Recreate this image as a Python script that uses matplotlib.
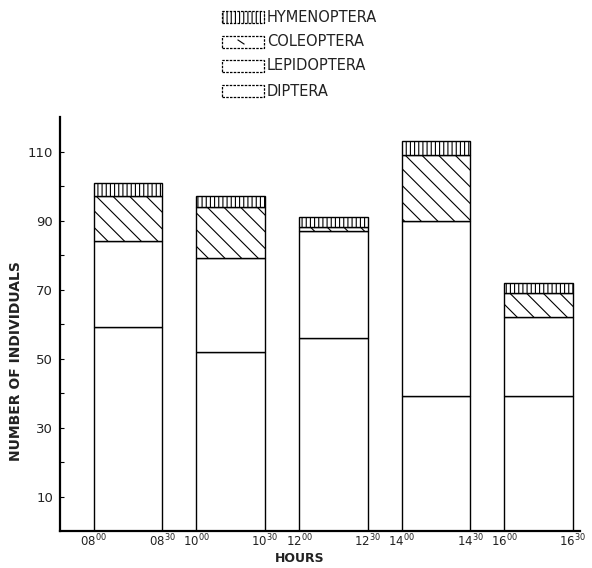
import matplotlib
matplotlib.use("Agg")
import matplotlib.pyplot as plt
from matplotlib.patches import Rectangle
import numpy as np

plt.rcParams['hatch.linewidth'] = 0.8

# Data (number of individuals, stacked)
periods = ["08-0830", "10-1030", "12-1230", "14-1430", "16-1630"]
start_labels = ["08$^{00}$", "10$^{00}$", "12$^{00}$", "14$^{00}$", "16$^{00}$"]
end_labels = ["08$^{30}$", "10$^{30}$", "12$^{30}$", "14$^{30}$", "16$^{30}$"]
diptera = [59, 52, 56, 39, 39]
lepidoptera = [25, 27, 31, 51, 23]
coleoptera = [13, 15, 1, 19, 7]
hymenoptera = [4, 3, 3, 4, 3]

series = [
    ("DIPTERA", diptera, None),
    ("LEPIDOPTERA", lepidoptera, None),
    ("COLEOPTERA", coleoptera, "\\\\"),
    ("HYMENOPTERA", hymenoptera, "||||"),
]

fig = plt.figure(figsize=(5.92, 5.68), dpi=100)
ax = fig.add_axes([0.1014, 0.0651, 0.878, 0.7289])

step = 1.5
lefts = np.arange(len(periods)) * step
bottom = np.zeros(len(periods))
for name, vals, hatch in series:
    ax.bar(lefts, vals, width=1.0, bottom=bottom, align="edge",
           facecolor="white", edgecolor="black", linewidth=1.0,
           hatch=hatch)
    bottom = bottom + np.array(vals)

ax.set_xlim(-0.49, 7.1)
ax.set_ylim(0, 120)

for s in ["top", "right"]:
    ax.spines[s].set_visible(False)
ax.spines["left"].set_linewidth(1.6)
ax.spines["bottom"].set_linewidth(1.6)

yt = list(range(10, 120, 10))
ax.set_yticks(yt)
ax.set_yticklabels([str(v) if v % 20 == 10 else "" for v in yt],
                   fontsize=9.5, color="#222222")
ax.tick_params(axis="y", direction="in", length=3, width=0.8, pad=5)

xt = []
xl = []
for i in range(len(periods)):
    xt += [lefts[i], lefts[i] + 1.0]
    xl += [start_labels[i], end_labels[i]]
ax.set_xticks(xt)
ax.set_xticklabels(xl, fontsize=8.5, color="#222222")
ax.tick_params(axis="x", length=0, pad=1.5)

W, H = 592.0, 568.0
fig.text(300 / W, 1 - 559 / H, "HOURS", fontsize=9, fontweight="bold",
         ha="center", va="center", color="#222222")
fig.text(16 / W, 1 - 361 / H, "NUMBER OF INDIVIDUALS", fontsize=10,
         fontweight="bold", rotation=90, ha="center", va="center",
         color="#222222")

# Legend drawn as stacked boxes at the top
leg_rows = [("HYMENOPTERA", "||||"), ("COLEOPTERA", None),
            ("LEPIDOPTERA", None), ("DIPTERA", None)]
row_y = [17, 42, 66, 91]
for (name, hatch), yc in zip(leg_rows, row_y):
    x0, bw, bh = 222, 42, 12
    r = Rectangle((x0 / W, 1 - (yc + bh / 2) / H), bw / W, bh / H,
                  transform=fig.transFigure, facecolor="white",
                  edgecolor="black", linewidth=0.9, hatch=hatch,
                  linestyle=(0, (2, 1)))
    fig.patches.append(r)
    fig.text(267 / W, 1 - yc / H, name, fontsize=10.5, va="center",
             ha="left", color="#222222")

# small diagonal mark inside the COLEOPTERA legend box
yc = row_y[1]
fig.lines.append(plt.Line2D([238 / W, 244 / W], [1 - (yc - 2) / H, 1 - (yc + 2) / H],
                            transform=fig.transFigure, color="black", linewidth=0.8))

fig.savefig("out.png", dpi=100)
